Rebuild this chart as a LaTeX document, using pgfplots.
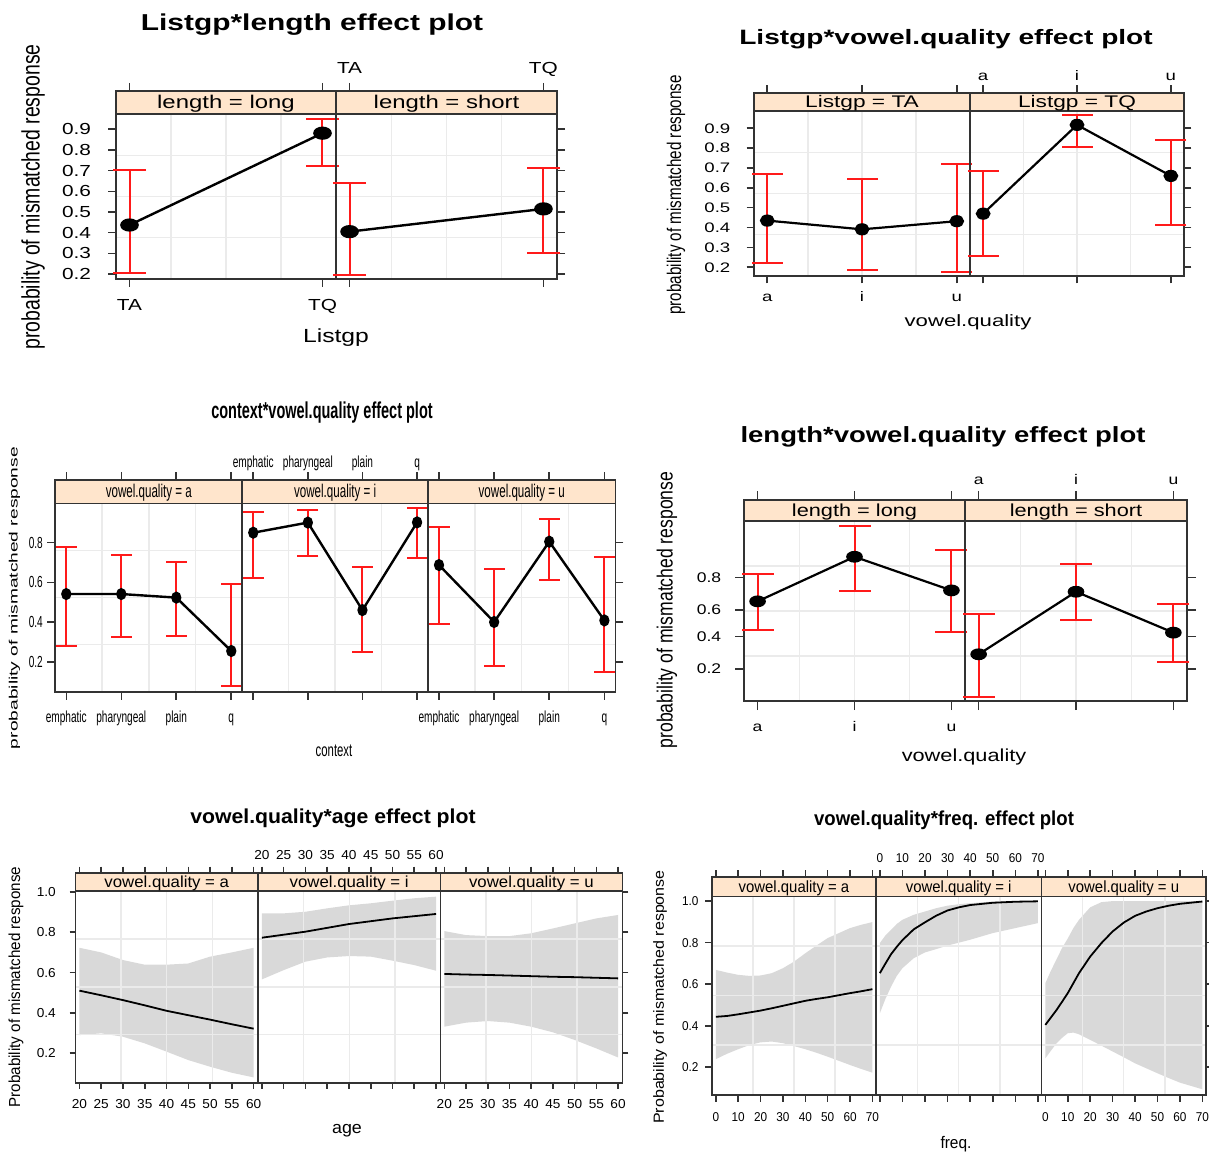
\documentclass[border=0pt]{standalone}
\usepackage{fontspec}
\setmainfont{Liberation Sans}
\usepackage{pgfplots}
\usepackage{pgfplotstable}
\pgfplotsset{compat=1.18}
\usepgfplotslibrary{fillbetween}

\definecolor{stripc}{HTML}{FFE5CC}
\definecolor{gridc}{HTML}{EBEBEB}
\definecolor{framec}{HTML}{333333}
\definecolor{cired}{HTML}{FF1A1A}

\newcommand{\fs}[1]{\fontsize{#1}{#1}\selectfont}
\newcommand{\sfnt}{}
\newcommand{\sxs}{1}
\newcommand{\capsz}{8pt}

\newcommand{\panelbg}[2]{%
  \draw[gridc, line width=0.7pt] (rel axis cs:0.25,0) -- (rel axis cs:0.25,#1);
  \draw[gridc, line width=0.7pt] (rel axis cs:0.5,0) -- (rel axis cs:0.5,#1);
  \draw[gridc, line width=0.7pt] (rel axis cs:0.75,0) -- (rel axis cs:0.75,#1);
  \draw[gridc, line width=0.7pt] (rel axis cs:0,{0.25*#1}) -- (rel axis cs:1,{0.25*#1});
  \draw[gridc, line width=0.7pt] (rel axis cs:0,{0.5*#1}) -- (rel axis cs:1,{0.5*#1});
  \draw[gridc, line width=0.7pt] (rel axis cs:0,{0.75*#1}) -- (rel axis cs:1,{0.75*#1});
  \fill[stripc] (rel axis cs:0,#1) rectangle (rel axis cs:1,1);
  \draw[framec, line width=0.9pt] (rel axis cs:0,#1) -- (rel axis cs:1,#1);
  \node[font=\sfnt, xscale=\sxs, inner sep=0pt, yshift=-0.6pt] at (rel axis cs:0.5,{0.5+0.5*#1}) {#2};
}

% confidence interval (linear scale): x, lower, upper
\newcommand{\ci}[3]{%
  \addplot[draw=cired, line width=1pt, mark=-, mark size=\capsz, mark options={solid, draw=cired, line width=1pt}, forget plot]
    coordinates {(#1,#2) (#1,#3)};}
% confidence interval (logit scale)
\newcommand{\lci}[3]{%
  \addplot[draw=cired, line width=1pt, mark=-, mark size=\capsz, mark options={solid, draw=cired, line width=1pt}, forget plot]
    table[row sep=\\, x=x, y expr={ln(\thisrow{y}/(1-\thisrow{y}))}] {x y\\ #1 #2\\ #1 #3\\};}
% fitted points + line
\newcommand{\pts}[4]{%
  \addplot[black, line width=#4, mark=*, mark size=#2, mark options={xscale=#3, fill=black, solid}] table[x=x, y=p] {#1};}
\newcommand{\lpts}[1]{%
  \addplot[black, line width=1.1pt, mark=*, mark size=2.4pt, mark options={xscale=1.5, fill=black, solid}]
    table[x=x, y expr={ln(\thisrow{p}/(1-\thisrow{p}))}] {#1};}

\newcommand{\bandpanel}[1]{%
  \addplot[draw=none, name path=U, forget plot] table[x=x, y=hi] {#1};
  \addplot[draw=none, name path=L, forget plot] table[x=x, y=lo] {#1};
  \addplot[fill=black, fill opacity=0.15, draw=none] fill between[of=U and L];
  \addplot[black, line width=0.9pt, mark=none] table[x=x, y=fit] {#1};
}

\pgfplotsset{
  lat/.style={scale only axis, axis on top, anchor=south west,
    axis line style={framec, line width=0.9pt},
    tick align=outside, tick style={framec, line width=0.8pt},
    xtick pos=both, clip=true,
    /pgf/number format/assume math mode=true},
  botlab/.style={xticklabel pos=left, xticklabel style={yshift=#1}},
  toplab/.style={xticklabel pos=right, xticklabel style={yshift=#1}},
}

% ---------- data: fitted probabilities ----------
\pgfplotstableread{
x p
1 0.437
2 0.881
}\tOneLong
\pgfplotstableread{
x p
1 0.405
2 0.515
}\tOneShort
\pgfplotstableread{
x p
1 0.435
2 0.391
3 0.432
}\tTwoTA
\pgfplotstableread{
x p
1 0.470
2 0.917
3 0.660
}\tTwoTQ
\pgfplotstableread{
x p
1 0.541
2 0.541
3 0.523
4 0.254
}\tThrA
\pgfplotstableread{
x p
1 0.850
2 0.901
3 0.460
4 0.902
}\tThrI
\pgfplotstableread{
x p
1 0.687
2 0.400
3 0.805
4 0.408
}\tThrU
\pgfplotstableread{
x p
1 0.661
2 0.883
3 0.731
}\tFourLong
\pgfplotstableread{
x p
1 0.281
2 0.723
3 0.430
}\tFourShort

\pgfplotstableread{
x fit lo hi
20 0.510 0.289 0.723
25 0.487 0.298 0.700
30 0.463 0.281 0.662
35 0.437 0.248 0.639
40 0.410 0.207 0.639
45 0.388 0.165 0.645
50 0.366 0.132 0.679
55 0.343 0.102 0.700
60 0.321 0.079 0.723
}\tAgeA
\pgfplotstableread{
x fit lo hi
20 0.773 0.566 0.894
25 0.788 0.612 0.894
30 0.803 0.654 0.902
35 0.822 0.675 0.919
40 0.841 0.682 0.934
45 0.855 0.679 0.944
50 0.869 0.659 0.957
55 0.880 0.637 0.969
60 0.891 0.609 0.977
}\tAgeI
\pgfplotstableread{
x fit lo hi
20 0.593 0.331 0.806
25 0.590 0.351 0.786
30 0.588 0.359 0.781
35 0.585 0.351 0.781
40 0.582 0.331 0.795
45 0.579 0.303 0.819
50 0.577 0.265 0.844
55 0.574 0.223 0.869
60 0.571 0.178 0.886
}\tAgeU

\pgfplotstableread{
x fit lo hi
0 0.443 0.239 0.669
5 0.447 0.265 0.656
10 0.455 0.287 0.645
15 0.464 0.307 0.640
20 0.473 0.320 0.642
25 0.484 0.324 0.653
30 0.496 0.316 0.677
35 0.508 0.302 0.709
40 0.520 0.287 0.749
45 0.529 0.270 0.786
50 0.537 0.251 0.822
55 0.547 0.231 0.846
60 0.557 0.211 0.870
65 0.566 0.192 0.886
70 0.576 0.174 0.899
}\tFrqA
\pgfplotstableread{
x fit lo hi
0 0.653 0.460 0.798
2.5 0.700 0.530 0.835
5 0.745 0.589 0.862
7.5 0.780 0.640 0.890
10 0.812 0.677 0.910
15 0.864 0.725 0.934
20 0.898 0.753 0.950
25 0.930 0.769 0.966
30 0.955 0.786 0.978
35 0.970 0.800 0.985
40 0.981 0.814 0.990
50 0.992 0.846 0.998
60 0.997 0.870 1.000
70 0.999 0.894 1.000
}\tFrqI
\pgfplotstableread{
x fit lo hi
0 0.404 0.243 0.605
2.5 0.440 0.280 0.665
5 0.476 0.316 0.720
7.5 0.516 0.342 0.775
10 0.557 0.364 0.820
12.5 0.605 0.367 0.870
15 0.653 0.359 0.910
20 0.733 0.332 0.970
25 0.798 0.304 0.995
30 0.854 0.276 1.000
35 0.897 0.248 1.000
40 0.929 0.219 1.000
45 0.950 0.195 1.000
50 0.966 0.171 1.000
55 0.978 0.148 1.000
60 0.987 0.126 1.000
70 0.998 0.094 1.000
}\tFrqU

\begin{document}
\begin{tikzpicture}

%%%%%%%%%%%%%%%% Plot 1: Listgp*length
\renewcommand{\sfnt}{\fs{9.2}}\renewcommand{\sxs}{1.3}\renewcommand{\capsz}{8.3pt}
\node[font=\bfseries\fs{11.5}, xscale=1.3] at (156pt,564pt) {Listgp*length effect plot};
\node[font=\fs{9.5}, xscale=1.3] at (168pt,407.5pt) {Listgp};
\node[font=\fs{9.7}, xscale=1.3, rotate=90] at (16.5pt,478pt) {probability of mismatched response};
\begin{axis}[lat, botlab=-2pt, at={(58pt,437pt)}, width=110pt, height=94pt,
  xmin=0.93, xmax=2.07, ymin=0.176, ymax=1.085, major tick length=4pt,
  xtick={1,2}, xticklabels={TA,TQ},
  ytick={0.2,0.3,0.4,0.5,0.6,0.7,0.8,0.9}, yticklabels={0.2,0.3,0.4,0.5,0.6,0.7,0.8,0.9}, ytick pos=left,
  tick label style={font=\fs{8}, xscale=1.3}, xticklabel style={text height=6pt, text depth=1.8pt},
  yticklabel style={xshift=-3pt}]
\panelbg{0.878}{length = long}
\ci{1}{0.206}{0.702}
\ci{2}{0.722}{0.950}
\pts{\tOneLong}{2.7pt}{1.5}{1.2pt}
\end{axis}
\begin{axis}[lat, toplab=-0.8pt, at={(168pt,437pt)}, width=110.5pt, height=94pt,
  xmin=0.93, xmax=2.07, ymin=0.176, ymax=1.085, major tick length=4pt,
  xtick={1,2}, xticklabels={TA,TQ},
  ytick={0.2,0.3,0.4,0.5,0.6,0.7,0.8,0.9}, yticklabels={}, ytick pos=right,
  tick label style={font=\fs{8}, xscale=1.3}, xticklabel style={text height=6pt, text depth=1.8pt}]
\panelbg{0.878}{length = short}
\ci{1}{0.194}{0.642}
\ci{2}{0.300}{0.711}
\pts{\tOneShort}{2.7pt}{1.5}{1.2pt}
\end{axis}

%%%%%%%%%%%%%%%% Plot 2: Listgp*vowel.quality
\renewcommand{\sfnt}{\fs{8.4}}\renewcommand{\sxs}{1.35}\renewcommand{\capsz}{7.75pt}
\node[font=\bfseries\fs{10.4}, xscale=1.35] at (473pt,557pt) {Listgp*vowel.quality effect plot};
\node[font=\fs{8.2}, xscale=1.35] at (484pt,415.5pt) {vowel.quality};
\node[font=\fs{7.6}, xscale=1.3, rotate=90] at (338pt,479pt) {probability of mismatched response};
\begin{axis}[lat, botlab=-0.5pt, at={(377pt,438.5pt)}, width=108pt, height=91.65pt,
  xmin=0.86, xmax=3.14, ymin=0.156, ymax=1.079, major tick length=3.7pt,
  xtick={1,2,3}, xticklabels={a,i,u},
  ytick={0.2,0.3,0.4,0.5,0.6,0.7,0.8,0.9}, yticklabels={0.2,0.3,0.4,0.5,0.6,0.7,0.8,0.9}, ytick pos=left,
  tick label style={font=\fs{6.9}, xscale=1.35}, xticklabel style={text height=5.2pt, text depth=1.5pt},
  yticklabel style={xshift=-2.5pt}]
\panelbg{0.9}{Listgp = TA}
\ci{1}{0.220}{0.672}
\ci{2}{0.187}{0.643}
\ci{3}{0.176}{0.720}
\pts{\tTwoTA}{2.5pt}{1.25}{1.1pt}
\end{axis}
\begin{axis}[lat, toplab=-2.5pt, at={(485pt,438.5pt)}, width=107pt, height=91.65pt,
  xmin=0.86, xmax=3.14, ymin=0.156, ymax=1.079, major tick length=3.7pt,
  xtick={1,2,3}, xticklabels={a,i,u},
  ytick={0.2,0.3,0.4,0.5,0.6,0.7,0.8,0.9}, yticklabels={}, ytick pos=right,
  tick label style={font=\fs{6.9}, xscale=1.35}, xticklabel style={text height=5.2pt, text depth=1.5pt}]
\panelbg{0.9}{Listgp = TQ}
\ci{1}{0.259}{0.687}
\ci{2}{0.808}{0.967}
\ci{3}{0.413}{0.841}
\pts{\tTwoTQ}{2.5pt}{1.25}{1.1pt}
\end{axis}

%%%%%%%%%%%%%%%% Plot 3: context*vowel.quality
\renewcommand{\sfnt}{\fs{9.2}}\renewcommand{\sxs}{0.63}\renewcommand{\capsz}{5.25pt}
\node[font=\bfseries\fs{11.5}, xscale=0.63] at (161pt,370pt) {context*vowel.quality effect plot};
\node[font=\fs{9}, xscale=0.63] at (167pt,201pt) {context};
\node[font=\fs{9.6}, xscale=0.63, rotate=90] at (7.3pt,277.5pt) {probability of mismatched response};
\begin{axis}[lat, botlab=-2pt, at={(27.65pt,230.65pt)}, width=93.5pt, height=105.7pt,
  xmin=0.8, xmax=4.2, ymin=0.049, ymax=1.114, major tick length=4pt,
  xtick={1,2,3,4}, xticklabels={emphatic,pharyngeal,plain,q},
  ytick={0.2,0.4,0.6,0.8}, yticklabels={0.2,0.4,0.6,0.8}, ytick pos=left,
  tick label style={font=\fs{8}, xscale=0.63}, xticklabel style={text height=6pt, text depth=1.8pt}]
\panelbg{0.89}{vowel.quality = a}
\ci{1}{0.281}{0.776}
\ci{2}{0.324}{0.739}
\ci{3}{0.329}{0.703}
\ci{4}{0.076}{0.593}
\pts{\tThrA}{2.4pt}{0.81}{1.2pt}
\end{axis}
\begin{axis}[lat, toplab=-2.8pt, at={(121.15pt,230.65pt)}, width=92.85pt, height=105.7pt,
  xmin=0.8, xmax=4.2, ymin=0.049, ymax=1.114, major tick length=4pt,
  xtick={1,2,3,4}, xticklabels={emphatic,pharyngeal,plain,q},
  ytick=\empty,
  tick label style={font=\fs{8}, xscale=0.63}, xticklabel style={text height=6pt, text depth=1.8pt}]
\panelbg{0.89}{vowel.quality = i}
\ci{1}{0.622}{0.953}
\ci{2}{0.734}{0.966}
\ci{3}{0.250}{0.679}
\ci{4}{0.721}{0.973}
\pts{\tThrI}{2.4pt}{0.81}{1.2pt}
\end{axis}
\begin{axis}[lat, botlab=-2pt, at={(214pt,230.65pt)}, width=93.7pt, height=105.7pt,
  xmin=0.8, xmax=4.2, ymin=0.049, ymax=1.114, major tick length=4pt,
  xtick={1,2,3,4}, xticklabels={emphatic,pharyngeal,plain,q},
  ytick={0.2,0.4,0.6,0.8}, yticklabels={}, ytick pos=right,
  tick label style={font=\fs{8}, xscale=0.63}, xticklabel style={text height=6pt, text depth=1.8pt}]
\panelbg{0.89}{vowel.quality = u}
\ci{1}{0.392}{0.881}
\ci{2}{0.178}{0.667}
\ci{3}{0.612}{0.918}
\ci{4}{0.148}{0.728}
\pts{\tThrU}{2.4pt}{0.81}{1.2pt}
\end{axis}

%%%%%%%%%%%%%%%% Plot 4: length*vowel.quality (logit scale)
\renewcommand{\sfnt}{\fs{8.7}}\renewcommand{\sxs}{1.25}\renewcommand{\capsz}{8pt}
\node[font=\bfseries\fs{11}, xscale=1.25] at (471.5pt,358pt) {length*vowel.quality effect plot};
\node[font=\fs{8.7}, xscale=1.25] at (482pt,198pt) {vowel.quality};
\node[font=\fs{8.8}, xscale=1.25, rotate=90] at (333.5pt,271.5pt) {probability of mismatched response};
\begin{axis}[lat, botlab=-2pt, at={(372pt,226pt)}, width=110.5pt, height=100.5pt,
  xmin=0.86, xmax=3.14, ymin=-2.358, ymax=3.745, major tick length=4.5pt,
  xtick={1,2,3}, xticklabels={a,i,u},
  ytick={-1.3863,-0.4055,0.4055,1.3863}, yticklabels={0.2,0.4,0.6,0.8}, ytick pos=left,
  tick label style={font=\fs{7}, xscale=1.25}, xticklabel style={text height=5.3pt, text depth=1.6pt},
  yticklabel style={xshift=-2pt}]
\panelbg{0.8955}{length = long}
\lci{1}{0.450}{0.816}
\lci{2}{0.727}{0.951}
\lci{3}{0.435}{0.903}
\lpts{\tFourLong}
\end{axis}
\begin{axis}[lat, toplab=-2.1pt, at={(482.5pt,226pt)}, width=111pt, height=100.5pt,
  xmin=0.86, xmax=3.14, ymin=-2.358, ymax=3.745, major tick length=4.5pt,
  xtick={1,2,3}, xticklabels={a,i,u},
  ytick={-1.3863,-0.4055,0.4055,1.3863}, yticklabels={}, ytick pos=right,
  tick label style={font=\fs{7}, xscale=1.25}, xticklabel style={text height=5.3pt, text depth=1.6pt}]
\panelbg{0.8955}{length = short}
\lci{1}{0.097}{0.568}
\lci{2}{0.525}{0.857}
\lci{3}{0.234}{0.640}
\lpts{\tFourShort}
\end{axis}

%%%%%%%%%%%%%%%% Plot 5: vowel.quality*age
\renewcommand{\sfnt}{\fs{8}}\renewcommand{\sxs}{1.05}
\node[font=\bfseries\fs{10.1}, xscale=1.05] at (166.5pt,167.5pt) {vowel.quality*age effect plot};
\node[font=\fs{8.5}, xscale=1.05] at (173.5pt,11pt) {age};
\node[font=\fs{7.6}, xscale=1.05, rotate=90] at (8pt,83pt) {Probability of mismatched response};
\begin{axis}[lat, botlab=-2pt, at={(37.75pt,35.15pt)}, width=91.25pt, height=105pt,
  xmin=19.1, xmax=61.0, ymin=0.0526, ymax=1.096, major tick length=3pt,
  xtick={20,25,...,60},
  ytick={0.2,0.4,0.6,0.8,1.0}, yticklabels={0.2,0.4,0.6,0.8,1.0}, ytick pos=left,
  tick label style={font=\fs{6.5}, xscale=1.05}, yticklabel style={xshift=-3pt}]
\panelbg{0.913}{vowel.quality = a}
\bandpanel{\tAgeA}
\end{axis}
\begin{axis}[lat, toplab=0pt, at={(129pt,35.15pt)}, width=91.2pt, height=105pt,
  xmin=19.1, xmax=61.0, ymin=0.0526, ymax=1.096, major tick length=3pt,
  xtick={20,25,...,60},
  ytick=\empty,
  tick label style={font=\fs{6.5}, xscale=1.05}]
\panelbg{0.913}{vowel.quality = i}
\bandpanel{\tAgeI}
\end{axis}
\begin{axis}[lat, botlab=-2pt, at={(220.2pt,35.15pt)}, width=91pt, height=105pt,
  xmin=19.1, xmax=61.0, ymin=0.0526, ymax=1.096, major tick length=3pt,
  xtick={20,25,...,60},
  ytick={0.2,0.4,0.6,0.8,1.0}, yticklabels={}, ytick pos=right,
  tick label style={font=\fs{6.5}, xscale=1.05}]
\panelbg{0.913}{vowel.quality = u}
\bandpanel{\tAgeU}
\end{axis}

%%%%%%%%%%%%%%%% Plot 6: vowel.quality*freq.
\renewcommand{\sfnt}{\fs{8.1}}\renewcommand{\sxs}{0.92}
\node[font=\bfseries\fs{10.1}, xscale=0.92] at (472pt,166.5pt) {vowel.quality*freq. effect plot};
\node[font=\fs{8.4}, xscale=0.92] at (478pt,4.5pt) {freq.};
\node[font=\fs{8}, xscale=0.92, rotate=90] at (330pt,78pt) {Probability of mismatched response};
\begin{axis}[lat, botlab=-2pt, at={(356pt,29.15pt)}, width=82pt, height=108.85pt,
  xmin=-1.7, xmax=71.6, ymin=0.068, ymax=1.116, major tick length=3.5pt,
  xtick={0,10,...,70},
  ytick={0.2,0.4,0.6,0.8,1.0}, yticklabels={0.2,0.4,0.6,0.8,1.0}, ytick pos=left,
  tick label style={font=\fs{6.4}, xscale=0.92}]
\panelbg{0.9108}{vowel.quality = a}
\bandpanel{\tFrqA}
\end{axis}
\begin{axis}[lat, toplab=0pt, at={(438pt,29.15pt)}, width=82.75pt, height=108.85pt,
  xmin=-1.7, xmax=71.6, ymin=0.068, ymax=1.116, major tick length=3.5pt,
  xtick={0,10,...,70},
  ytick=\empty,
  tick label style={font=\fs{6.4}, xscale=0.92}]
\panelbg{0.9108}{vowel.quality = i}
\bandpanel{\tFrqI}
\end{axis}
\begin{axis}[lat, botlab=-2pt, at={(520.75pt,29.15pt)}, width=82.25pt, height=108.85pt,
  xmin=-1.7, xmax=71.6, ymin=0.068, ymax=1.116, major tick length=3.5pt,
  xtick={0,10,...,70},
  ytick={0.2,0.4,0.6,0.8,1.0}, yticklabels={}, ytick pos=right,
  tick label style={font=\fs{6.4}, xscale=0.92}]
\panelbg{0.9108}{vowel.quality = u}
\bandpanel{\tFrqU}
\end{axis}

\pgfresetboundingbox
\path[use as bounding box] (0,0) rectangle (604.5pt,576.5pt);
\end{tikzpicture}
\end{document}
